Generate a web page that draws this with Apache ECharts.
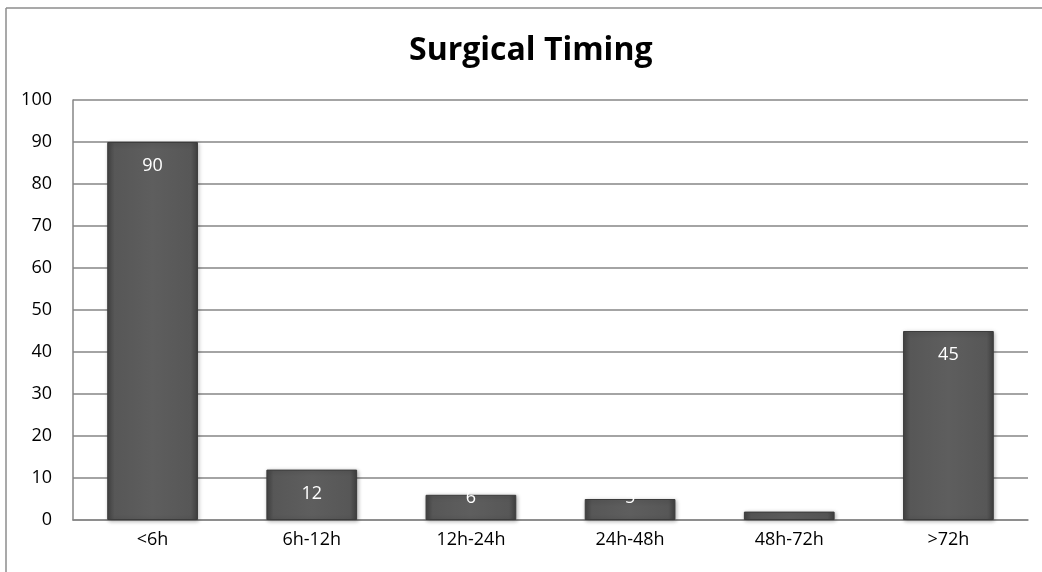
<!DOCTYPE html>
<html>
<head>
<meta charset="utf-8">
<script src="https://cdn.jsdelivr.net/npm/echarts@6/dist/echarts.min.js"></script>
<style>
html,body{margin:0;padding:0;background:#fff;}
#main{width:1042px;height:572px;}
</style>
</head>
<body>
<div id="main"></div>
<script>
var categories = ['<6h', '6h-12h', '12h-24h', '24h-48h', '48h-72h', '>72h'];
var counts = [90, 12, 6, 5, 2, 45];
var yTicks = [0, 100, 10];

var barColor = {
	type: 'linear', x: 0, y: 0, x2: 1, y2: 0,
	colorStops: [
		{offset: 0, color: '#444'},
		{offset: 0.08, color: '#575757'},
		{offset: 0.5, color: '#5e5e5e'},
		{offset: 0.92, color: '#575757'},
		{offset: 1, color: '#404040'}
	]
};

var values = [];
for (var i = 0; i < counts.length; i++) {
	var it = {value: counts[i]};
	// short bars: Excel squeezes the label up to the bar top, the rest is lost on white
	if (counts[i] < 3) it.label = {show: false};
	else if (counts[i] < 10) it.label = {show: true, offset: [0, counts[i] == 6 ? -21 : -25]};
	values.push(it);
}

var myChart = echarts.init(document.getElementById('main'));
var option = {
	animation: false,
	title: {
		text: 'Surgical Timing',
		left: 404,
		top: 30,
		textStyle: {fontFamily: 'Open Sans', fontWeight: 'bold', fontSize: 32, color: '#000'}
	},
	graphic: [
		{type: 'line', shape: {x1: 6, y1: 8, x2: 1042, y2: 8}, style: {stroke: '#8c8c8c', lineWidth: 1.5}},
		{type: 'line', shape: {x1: 6, y1: 8, x2: 6, y2: 572}, style: {stroke: '#8c8c8c', lineWidth: 1.5}}
	],
	grid: {left: 73, right: 14, top: 100, bottom: 52},
	xAxis: {
		type: 'category',
		data: categories,
		axisLine: {show: true, lineStyle: {color: '#868686', width: 1.5}},
		axisTick: {show: false},
		axisLabel: {color: '#000', fontFamily: 'Open Sans', fontSize: 18, margin: 11}
	},
	yAxis: {
		type: 'value',
		min: yTicks[0],
		max: yTicks[1],
		interval: yTicks[2],
		axisLine: {show: true, lineStyle: {color: '#868686', width: 1.5}},
		axisTick: {show: false},
		axisLabel: {color: '#000', fontFamily: 'Open Sans', fontSize: 18, margin: 21},
		splitLine: {lineStyle: {color: '#868686', width: 1.5}}
	},
	series: [{
		type: 'bar',
		data: values,
		barWidth: '57%',
		itemStyle: {
			color: barColor,
			borderColor: '#3c3c3c',
			borderWidth: 1,
			shadowColor: 'rgba(0,0,0,0.3)',
			shadowBlur: 4,
			shadowOffsetX: 1,
			shadowOffsetY: 1
		},
		label: {
			show: true,
			position: 'insideTop',
			distance: 15,
			color: '#fff',
			fontFamily: 'Open Sans',
			fontSize: 18
		}
	}]
};
myChart.setOption(option);
</script>
</body>
</html>
